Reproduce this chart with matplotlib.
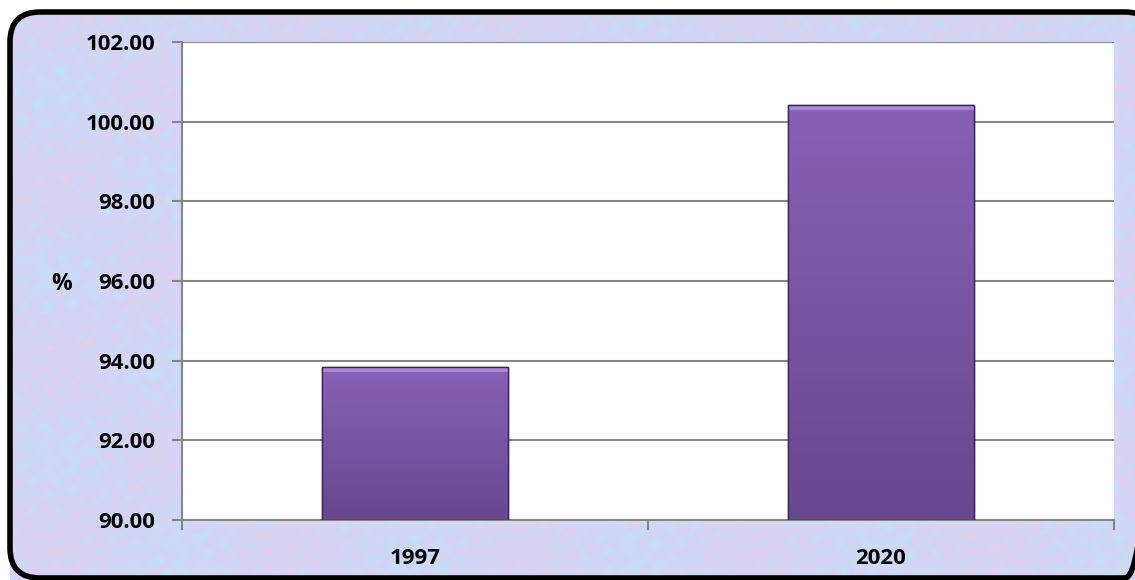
import numpy as np
import matplotlib.pyplot as plt
from matplotlib.patches import FancyBboxPatch
from matplotlib.colors import LinearSegmentedColormap

# data
years = ['1997', '2020']
values = [93.83, 100.41]
yticks = [90, 92, 94, 96, 98, 100, 102]

W, H = 1135, 580
fig = plt.figure(figsize=(W / 100, H / 100), dpi=100)
fig.patch.set_facecolor('white')

# textured background inside rounded frame
bg = fig.add_axes([0, 0, 1, 1], zorder=-5)
bg.set_xlim(0, W)
bg.set_ylim(H, 0)
bg.axis('off')
yy, xx = np.mgrid[0:H, 0:W]
tex = (0.5 * np.sin(xx / 37.0) * np.cos(yy / 29.0)
       + 0.4 * np.sin((xx + yy) / 6.1) * np.sin((xx - 2 * yy) / 9.7)
       + 0.3 * np.cos(xx / 4.3 + np.sin(yy / 5.0) * 2)
       + 0.3 * np.sin(yy / 3.7 + np.cos(xx / 7.0) * 3))
tex = (tex - tex.min()) / (tex.max() - tex.min())
tex_cmap = LinearSegmentedColormap.from_list(
    'tex', ['#c2e3f8', '#cbdcf6', '#d3d5f4', '#dbd2f1', '#e2d2ee'])
box = dict(boxstyle='round,pad=0,rounding_size=30')
clip = FancyBboxPatch((10, 12), W + 10, H + 20, facecolor='none', edgecolor='none',
                      transform=bg.transData, **box)
bg.add_patch(clip)
im = bg.imshow(tex, cmap=tex_cmap, extent=(0, W, H, 0), aspect='auto', zorder=1)
im.set_clip_path(clip)
frame = FancyBboxPatch((10, 12), W + 10, H - 14, facecolor='none', edgecolor='black',
                       linewidth=4, zorder=3, transform=bg.transData, **box)
bg.add_patch(frame)

ax = fig.add_axes([182 / W, 1 - 520 / H, (1114 - 182) / W, (520 - 42) / H])
ax.set_facecolor('white')

x = np.arange(len(years))
bars = ax.bar(x, [v - 90 for v in values], bottom=90, width=0.4,
              color='#7b5aa6', edgecolor='#3b2858', linewidth=1.0, zorder=3)

# vertical gradient on bars
grad_cmap = LinearSegmentedColormap.from_list('bar', ['#67488f', '#8761b6'])
for b in bars:
    bx, by = b.get_x(), b.get_y()
    bw, bh = b.get_width(), b.get_height()
    g = np.linspace(0, 1, 256).reshape(-1, 1)
    gi = ax.imshow(g, cmap=grad_cmap, origin='lower', aspect='auto',
                   extent=(bx, bx + bw, by, by + bh), zorder=3.5)
    gi.set_clip_path(b)
    # light bevel at top
    ax.fill_between([bx, bx + bw], by + bh - 0.12, by + bh, color='#b48fe0',
                    alpha=0.8, zorder=3.6, linewidth=0)
    ax.add_patch(plt.Rectangle((bx, by), bw, bh, facecolor='none',
                               edgecolor='#3b2858', linewidth=1.0, zorder=3.7))

ax.set_xlim(-0.5, 1.5)
ax.set_ylim(90, 102)
ax.set_yticks(yticks)
ax.set_yticklabels([f'{t:.2f}' for t in yticks])
ax.set_xticks(x)
ax.set_xticklabels(years)
ax.set_xticks([-0.5, 0.5, 1.5], minor=True)

ax.yaxis.grid(True, color='#868686', linewidth=1.5, zorder=0)
ax.set_axisbelow(True)
for s in ['top', 'right']:
    ax.spines[s].set_visible(False)
for s in ['left', 'bottom']:
    ax.spines[s].set_color('#868686')
    ax.spines[s].set_linewidth(1.5)

fnt = {'family': 'Open Sans', 'weight': 'bold', 'size': 16.5}
for lab in ax.get_yticklabels() + ax.get_xticklabels():
    lab.set_fontfamily('Open Sans')
    lab.set_fontweight('bold')
    lab.set_fontsize(16)

ax.tick_params(axis='y', which='major', length=7, width=1.5, color='#868686', pad=12)
ax.tick_params(axis='x', which='major', length=0, pad=20)
ax.tick_params(axis='x', which='minor', length=7, width=1.5, color='#868686')

fig.text(62 / W, 1 - 284 / H, '%', ha='center', va='center', **fnt)

fig.savefig('out.png', dpi=100, facecolor=fig.get_facecolor())
